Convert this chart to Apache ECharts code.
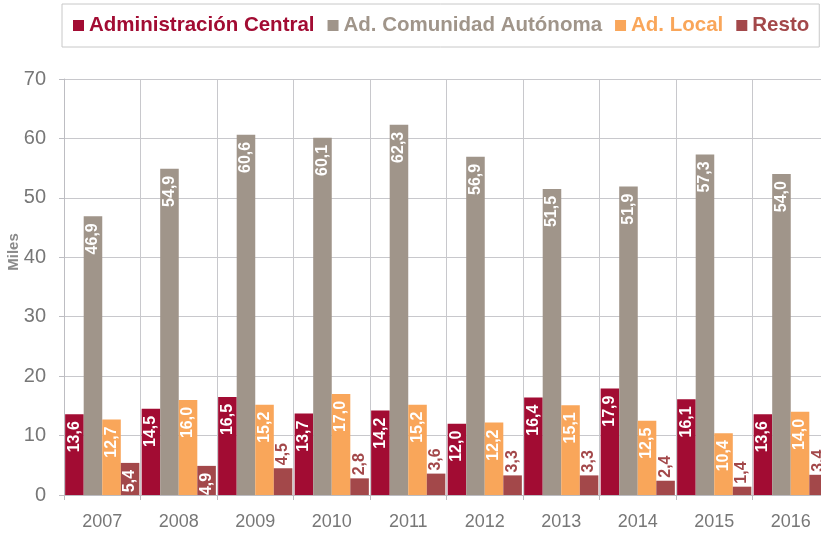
<!DOCTYPE html>
<html>
<head>
<meta charset="utf-8">
<script src="https://cdn.jsdelivr.net/npm/echarts@6/dist/echarts.min.js"></script>
<style>
  html, body { margin: 0; padding: 0; background: #fff; }
  #chart { width: 821px; height: 534px; }
</style>
</head>
<body>
<div id="chart"></div>
<script>
// Empleo público por administración (miles)
const years = ['2007', '2008', '2009', '2010', '2011', '2012', '2013', '2014', '2015', '2016'];
const administracionCentral = [13.6, 14.5, 16.5, 13.7, 14.2, 12.0, 16.4, 17.9, 16.1, 13.6];
const comunidadAutonoma = [46.9, 54.9, 60.6, 60.1, 62.3, 56.9, 51.5, 51.9, 57.3, 54.0];
const adLocal = [12.7, 16.0, 15.2, 17.0, 15.2, 12.2, 15.1, 12.5, 10.4, 14.0];
const resto = [5.4, 4.9, 4.5, 2.8, 3.6, 3.3, 3.3, 2.4, 1.4, 3.4];

const seriesNames = ['Administración Central', 'Ad. Comunidad Autónoma', 'Ad. Local', 'Resto'];
const colors = ['#A20C33', '#A0958A', '#F9A65A', '#A3484A'];

const FONT = "'Liberation Sans', Arial, sans-serif";
const fmt = p => p.value.toFixed(1).replace('.', ',');

const insideLabel = {
  show: true,
  rotate: 90,
  position: 'insideTop',
  align: 'right',
  verticalAlign: 'middle',
  distance: 7,
  color: '#fff',
  fontFamily: FONT,
  fontWeight: 'bold',
  fontSize: 16,
  formatter: fmt
};

// Small bars carry their label just above the bar, in the bar's own colour
const insideMin = 4.8;
const restoData = resto.map(v => v >= insideMin
  ? { value: v }
  : { value: v, label: { position: 'top', align: 'left', distance: 3, color: colors[3] } });

function bar(name, data, color) {
  return {
    name: name,
    type: 'bar',
    data: data,
    barGap: '0%',
    barCategoryGap: '3%',
    itemStyle: { color: color },
    label: insideLabel,
    emphasis: { disabled: true }
  };
}

const chart = echarts.init(document.getElementById('chart'), null, { renderer: 'canvas' });
chart.setOption({
  animation: false,
  color: colors,
  textStyle: { fontFamily: FONT },
  legend: {
    left: 62,
    top: 4,
    padding: [11, 10, 11, 11],
    borderColor: '#c8c8c8',
    borderWidth: 1,
    itemWidth: 11,
    itemHeight: 11,
    itemGap: 13,
    icon: 'rect',
    data: seriesNames.map((n, i) => ({
      name: n,
      textStyle: { color: colors[i] }
    })),
    textStyle: { fontFamily: FONT, fontWeight: 'bold', fontSize: 20.5 }
  },
  // The last year runs slightly past the right edge of the canvas
  grid: { left: 64, top: 79, width: 765, bottom: 39, containLabel: false, outerBoundsMode: 'none' },
  xAxis: {
    type: 'category',
    data: years,
    axisLine: { show: true, lineStyle: { color: '#bdbdc2' } },
    axisTick: { show: true, length: 5, lineStyle: { color: '#bdbdc2' } },
    splitLine: { show: true, lineStyle: { color: '#c8c8cc' } },
    axisLabel: { color: '#777', fontSize: 18, fontFamily: FONT, margin: 18 }
  },
  yAxis: {
    type: 'value',
    min: 0,
    max: 70,
    interval: 10,
    name: 'Miles',
    nameLocation: 'middle',
    nameRotate: 90,
    nameGap: 43,
    nameMoveOverlap: false,
    nameTextStyle: { color: '#8a8a8a', fontSize: 15, fontWeight: 'bold', fontFamily: FONT, padding: [0, 0, 0, 70] },
    axisLine: { show: true, lineStyle: { color: '#bdbdc2' } },
    axisTick: { show: true, length: 5, lineStyle: { color: '#bdbdc2' } },
    splitLine: { show: true, lineStyle: { color: '#c8c8cc' } },
    axisLabel: { color: '#777', fontSize: 20, fontFamily: FONT, margin: 18 }
  },
  series: [
    bar(seriesNames[0], administracionCentral, colors[0]),
    bar(seriesNames[1], comunidadAutonoma, colors[1]),
    bar(seriesNames[2], adLocal, colors[2]),
    bar(seriesNames[3], restoData, colors[3])
  ]
});
</script>
</body>
</html>
